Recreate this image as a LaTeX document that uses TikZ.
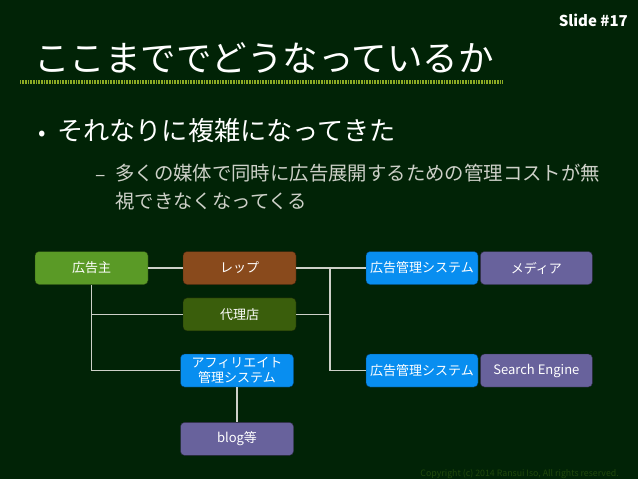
\documentclass[tikz,border=0pt]{standalone}
\usepackage{fontspec}
\setmainfont{Noto Sans CJK JP}
\usepackage{xcolor}
\usetikzlibrary{positioning}
\definecolor{boardbg}{RGB}{1,35,6}
\definecolor{lineol}{RGB}{140,172,36}
\definecolor{adgreen}{RGB}{90,154,38}
\definecolor{repbrown}{RGB}{137,74,28}
\definecolor{agdark}{RGB}{58,94,12}
\definecolor{sysblue}{RGB}{8,142,240}
\definecolor{medpurple}{RGB}{104,98,156}
\definecolor{subgray}{RGB}{205,208,200}
\definecolor{copyg}{RGB}{32,72,12}

\begin{document}
\begin{tikzpicture}[x=1pt, y=-1pt,
  box/.style={draw=black!60!#1, fill=#1, rounded corners=4pt, minimum width=113pt,
    minimum height=33pt, inner sep=0pt, align=center, text=white,
    font=\fontsize{13}{14.5}\selectfont},
  conn/.style={draw=subgray, line width=1.4pt}]
% Background
\fill[boardbg] (0,0) rectangle (638,479);
\useasboundingbox (0,0) rectangle (638,479);

% Heading
\node[anchor=east, text=white, inner sep=0pt, font=\bfseries\fontsize{15}{18}\selectfont] (slideno) at (628,20) {Slide \#17};
\node[anchor=west, text=white, inner sep=0pt, font=\fontsize{35.5}{42}\selectfont] (title) at (34,58) {ここまででどうなっているか};
\draw[lineol, line width=4pt, dash pattern=on 0.8pt off 0.8pt] (20,82) -- (503,82);

% Bullets
\node[anchor=center, text=white, inner sep=0pt, font=\fontsize{22}{26}\selectfont] (dot1) at (42,136) {•};
\node[anchor=west, text=white, inner sep=0pt, font=\fontsize{26.2}{30}\selectfont] (pt1) at (57,131) {それなりに複雑になってきた};
\node[anchor=east, text=subgray, inner sep=0pt, font=\fontsize{19.4}{28}\selectfont] (dash2) at (106,178) {–};
\node[anchor=west, text=subgray, inner sep=0pt, font=\fontsize{19.4}{28}\selectfont] (pt2) at (115,173) {多くの媒体で同時に広告展開するための管理コストが無};
\node[anchor=west, text=subgray, inner sep=0pt, font=\fontsize{19.4}{28}\selectfont] (pt2b) at (115,201) {視できなくなってくる};

% Boxes
\node[box=adgreen] (adv) at (91.5,268) {広告主};
\node[box=repbrown] (rep) at (239.5,268) {レップ};
\node[box=agdark, below=13pt of rep] (agency) {代理店};
\node[box=sysblue] (afsys) at (237,370.5) {アフィリエイト\\管理システム};
\node[box=medpurple, below=35pt of afsys] (blog) {blog等};
\node[box=sysblue, minimum width=112pt] (adsys1) at (422,268) {広告管理システム};
\node[box=medpurple, minimum width=112pt, right=2pt of adsys1] (media) {メディア};
\node[box=sysblue, minimum width=112pt] (adsys2) at (422,370.5) {広告管理システム};
\node[box=medpurple, minimum width=112pt, right=2pt of adsys2] (search) {Search Engine};

% Connections
\coordinate (jn) at (330,268);
\draw[conn] (adv) -- (rep);
\draw[conn] (adv.south) |- (afsys.west);
\draw[conn] (adv.south |- agency.west) -- (agency.west);
\draw[conn] (rep) -- (adsys1);
\draw[conn] (jn) |- (adsys2.west);
\draw[conn] (agency.east) -- (jn |- agency.east);
\draw[conn] (afsys) -- (blog);

% Footer
\node[anchor=east, text=copyg, inner sep=0pt, font=\fontsize{8.8}{10}\selectfont] (copy) at (619,474) {Copyright (c) 2014 Ransui Iso, All rights reserved.};
\end{tikzpicture}
\end{document}
